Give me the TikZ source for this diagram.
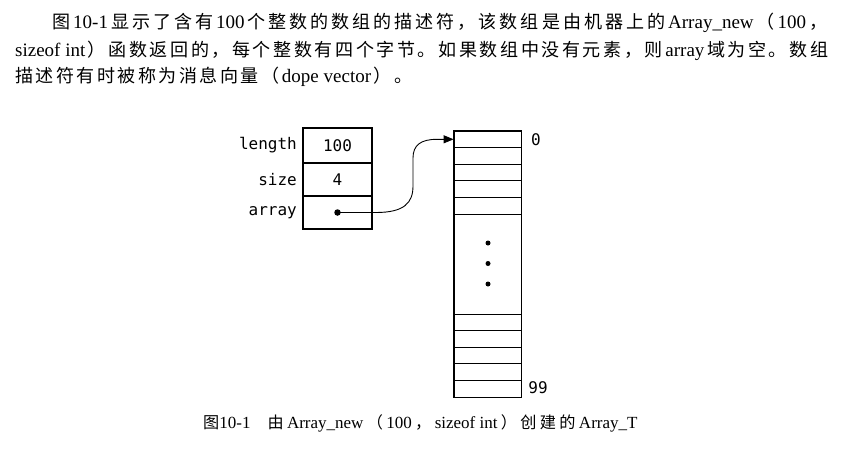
\documentclass[tikz,border=0pt]{standalone}
\usepackage{fontspec}
\setmainfont{Liberation Serif}
\newfontfamily\cjk[Scale=0.95]{Noto Sans CJK SC}
\newfontfamily\monof{DejaVu Sans Mono}
\usetikzlibrary{arrows.meta}
\newcount\mycc
\mycc="4E00
\loop \XeTeXcharclass\mycc=7 \advance\mycc by 1 \ifnum\mycc<"A000 \repeat
\XeTeXcharclass"FF08=7 \XeTeXcharclass"FF09=7 \XeTeXcharclass"FF0C=7 \XeTeXcharclass"3002=7
\XeTeXinterchartokenstate=1
\XeTeXinterchartoks 7 7 = {\hskip 0pt plus 1fil\relax}
\newcommand\gl{\hskip 0pt plus 1fil\relax}
\newcommand\zh[1]{\gl{\cjk #1}\gl}
\newcommand\zhL[1]{{\cjk #1}\gl}
\newcommand\zhR[1]{\gl{\cjk #1}}
\tikzset{
  txt/.style={inner sep=0pt, anchor=west, font=\fontsize{19}{23}\selectfont},
  field/.style={draw, line width=1.1pt, minimum width=69pt, inner sep=0pt, font=\monof\fontsize{16}{19}\selectfont},
  lab/.style={anchor=east, inner sep=0pt, font=\monof\fontsize{16}{19}\selectfont},
  idx/.style={inner sep=0pt, font=\monof\fontsize{16}{19}\selectfont},
  cell/.style={draw, line width=0.8pt, minimum width=67pt, minimum height=16.6pt, inner sep=0pt},
  dotn/.style={circle, fill, inner sep=0pt, minimum size=5pt},
}
\begin{document}
\begin{tikzpicture}[x=1pt,y=-1pt]
\useasboundingbox[fill=white] (0,0) rectangle (843,466);
% paragraph
\node[txt] (line1) at (52,23) {\makebox[775pt][s]{\zhL{图}10-1\zh{显示了含有}100\zh{个整数的数组的描述符，该数组是由机器上的}Array\_new\zh{（}100\zhR{，}}};
\node[txt] (line2) at (15,50.5) {\makebox[813pt][s]{sizeof int\zh{）函数返回的，每个整数有四个字节。如果数组中没有元素，则}array\zhR{域为空。数组}}};
\node[txt] (line3) at (15,77) {\makebox[397pt][s]{\zhL{描述符有时被称为消息向量（}dope vector\zhR{）。}}};
% descriptor
\node[field, minimum height=35pt] (flen) at (337.5,145.5) {100};
\node[field, minimum height=33pt] (fsize) at (337.5,179.5) {4};
\node[field, minimum height=33pt] (farr) at (337.5,212.5) {};
\node[lab] (llen) at (297,145.5) {length};
\node[lab] (lsize) at (297,179.5) {size};
\node[lab] (larr) at (297,212.5) {array};
\node[circle, fill, inner sep=0pt, minimum size=6.5pt] (ptr) at (337.5,212.5) {};
% array
\foreach \i in {0,...,4} {
  \node[cell] (t\i) at (487.5,{139.3+16.6*\i}) {};
  \node[cell] (b\i) at (487.5,{322.3+16.6*\i}) {};
}
\node[cell, minimum height=100pt] (gap) at (487.5,264) {};
\draw[line width=1.2pt] (t0.north west) rectangle (b4.south east);
\node[dotn] (d1) at (488,243) {};
\node[dotn] (d2) at (488,263.5) {};
\node[dotn] (d3) at (488,284) {};
\node[idx] (i0) at (536,139.3) {0};
\node[idx] (i99) at (538,388) {99};
% pointer
\coordinate (k1) at (413,186);
\coordinate (k2) at (413,158);
\draw[line width=0.9pt, -{Triangle[length=10pt,width=8pt]}]
  (ptr.center) -- (376,212.5) .. controls (404,212.5) and (413,203) .. (k1) -- (k2)
  .. controls (413,145) and (421,139.3) .. (437,139.3) -- (t0.west);
% caption
\node[inner sep=0pt, anchor=west, font=\fontsize{17}{20}\selectfont] (cap) at (203,423)
  {{\cjk 图}10-1\hspace{17pt}\makebox[370pt][s]{\zhL{由}Array\_new\zh{（}100\zh{，}sizeof int\zh{）创建的}Array\_T}};
\end{tikzpicture}
\end{document}
